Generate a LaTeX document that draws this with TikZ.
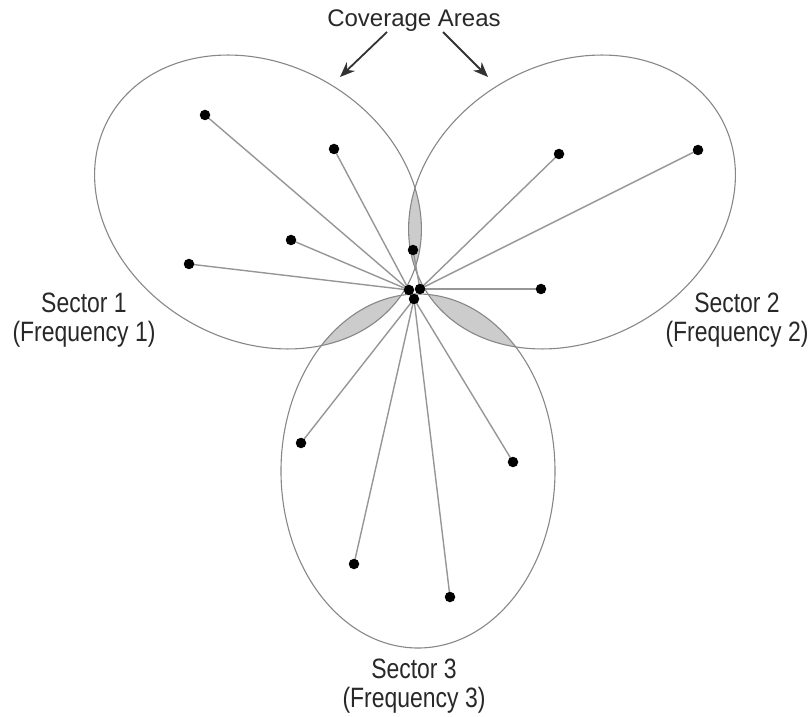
\documentclass[tikz,border=0pt]{standalone}
\usepackage{fontspec}
\setmainfont{Liberation Sans}
\newfontfamily\narrowfont[FakeStretch=0.82]{Liberation Sans}
\usetikzlibrary{arrows.meta}
\definecolor{lobegray}{RGB}{135,135,135}
\definecolor{raygray}{RGB}{150,150,150}
\definecolor{lensgray}{RGB}{204,204,204}
\definecolor{textgray}{RGB}{40,40,40}
\definecolor{arrowgray}{RGB}{50,50,50}
\begin{document}
\begin{tikzpicture}[x=1pt,y=1pt,
  lobe/.style={draw=lobegray, line width=1.1pt},
  ray/.style={draw=raygray, line width=1.4pt},
  dot/.style={circle, fill=black, inner sep=0pt, minimum size=10.5pt},
  lbl/.style={font=\narrowfont\fontsize{28}{29}\selectfont, align=center, text=textgray, inner sep=0pt, anchor=base},
  callout/.style={-{Stealth[length=15pt,width=12pt]}, line width=1.8pt, draw=arrowgray}]
\useasboundingbox (0,0) rectangle (811,716);
% lenses (overlaps)
\begin{scope}
  \clip (258,514) circle [x radius=171, y radius=138, rotate=-30];
  \fill[lensgray] (572,514) circle [x radius=171, y radius=138, rotate=30];
  \fill[lensgray] (418,245) circle [x radius=137, y radius=177];
\end{scope}
\begin{scope}
  \clip (572,514) circle [x radius=171, y radius=138, rotate=30];
  \fill[lensgray] (418,245) circle [x radius=137, y radius=177];
\end{scope}
% lobes
\draw[lobe] (258,514) circle [x radius=171, y radius=138, rotate=-30];
\draw[lobe] (572,514) circle [x radius=171, y radius=138, rotate=30];
\draw[lobe] (418,245) circle [x radius=137, y radius=177];
% antenna points
\coordinate (c1) at (409,426);
\coordinate (c2) at (420,427);
\coordinate (c3) at (414,417);
% subscriber points
\coordinate (a1) at (205,601);
\coordinate (a2) at (334,567);
\coordinate (a3) at (291,476);
\coordinate (a4) at (189,452);
\coordinate (b1) at (559,562);
\coordinate (b2) at (698,566);
\coordinate (b3) at (541,427);
\coordinate (b4) at (413,466);
\coordinate (e1) at (301,273);
\coordinate (e2) at (513,254);
\coordinate (e3) at (354,152);
\coordinate (e4) at (450,119);
% rays
\foreach \p in {a1,a2,a3,a4} \draw[ray] (\p) -- (c1);
\foreach \p in {b1,b2,b3,b4} \draw[ray] (\p) -- (c2);
\foreach \p in {e1,e2,e3,e4} \draw[ray] (\p) -- (c3);
% dots
\foreach \p in {c1,c2,c3,a1,a2,a3,a4,b1,b2,b3,b4,e1,e2,e3,e4}
  \node[dot] (n\p) at (\p) {};
% labels
\node[font=\fontsize{24}{28}\selectfont, text=textgray, inner sep=0pt, anchor=base] (cov) at (414,689) {Coverage Areas};
\coordinate (cl) at (387,684);
\coordinate (cr) at (443,684);
\coordinate (tl) at (340,639);
\coordinate (tr) at (488,639);
\draw[callout] (cl) -- (tl);
\draw[callout] (cr) -- (tr);
\node[lbl] (s1) at (84,374) {Sector 1\\(Frequency 1)};
\node[lbl] (s2) at (737,374) {Sector 2\\(Frequency 2)};
\node[lbl] (s3) at (414,9) {Sector 3\\(Frequency 3)};
\end{tikzpicture}
\end{document}
